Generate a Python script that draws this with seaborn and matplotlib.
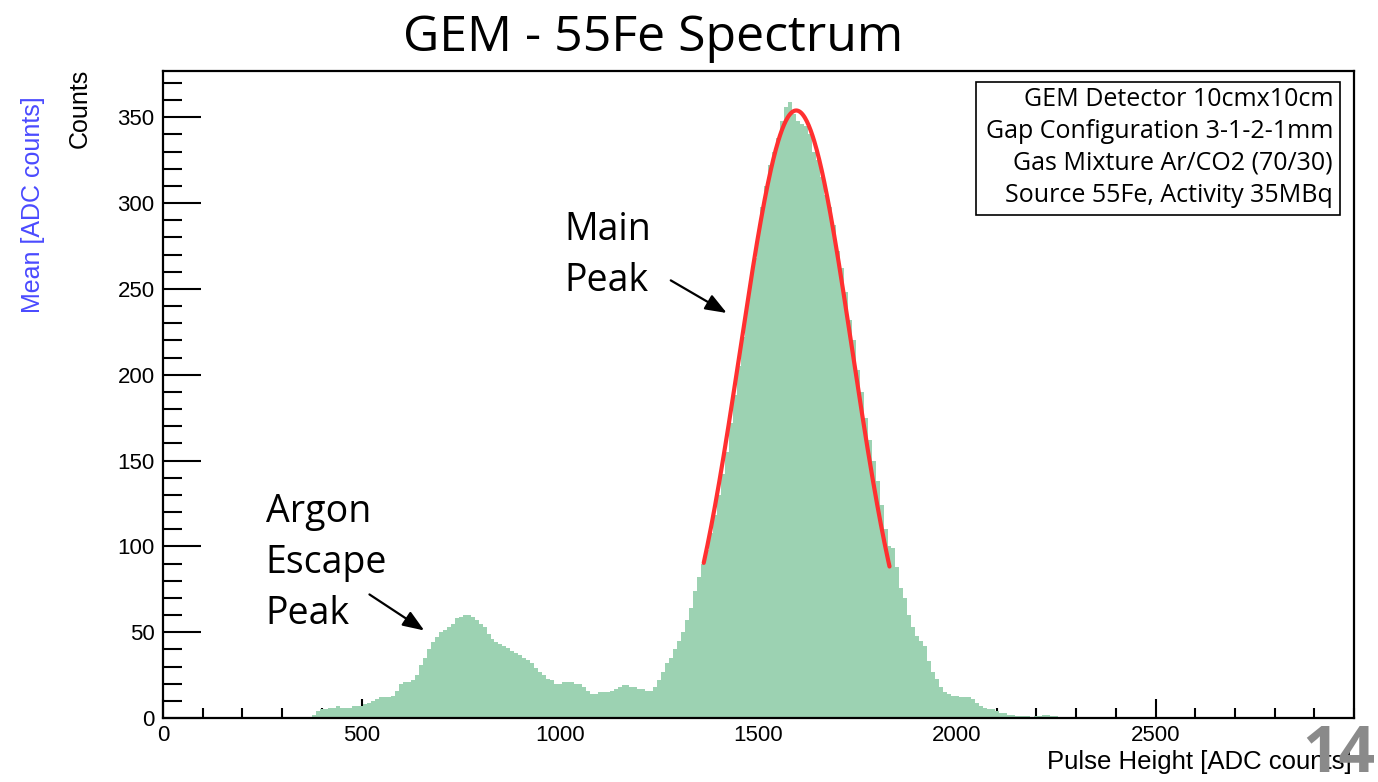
import numpy as np
import pandas as pd
import matplotlib
matplotlib.use("Agg")
import matplotlib.pyplot as plt
import matplotlib.patches as mpatches
from matplotlib.ticker import MultipleLocator, FixedLocator
import seaborn as sns

# ---------------- data ----------------
bin_start = 375      # lower edge of first bin [ADC counts]
bin_width = 10       # bin width [ADC counts]
counts = [
    2, 4, 5, 5, 6, 6, 7, 6, 6, 6,          # 380-470
    7, 7, 7, 8, 9, 10, 11, 12, 12, 12,     # 480-570
    13, 16, 20, 21, 21, 22, 25, 31, 35, 40,  # 580-670
    44, 47, 50, 51, 53, 55, 58, 59, 60, 60,  # 680-770
    59, 57, 55, 53, 49, 46, 44, 43, 42, 41,  # 780-870
    39, 38, 37, 35, 34, 32, 29, 27, 25, 23,  # 880-970
    22, 20, 20, 21, 21, 21, 20, 20, 18, 16,  # 980-1070
    14, 14, 15, 15, 15, 16, 17, 18, 19, 19,  # 1080-1170
    18, 18, 17, 17, 16, 16, 18, 22, 27, 32,  # 1180-1270
    35, 40, 45, 50, 57, 64, 74, 82, 90, 98,  # 1280-1370
    108, 118, 130, 142, 155, 172, 188, 205, 222, 240,  # 1380-1470
    255, 268, 283, 298, 310, 322, 330, 338, 348, 356,  # 1480-1570
    359, 352, 348, 346, 345, 340, 330, 325, 315, 305,  # 1580-1670
    298, 287, 272, 262, 248, 232, 220, 203, 190, 175,  # 1680-1770
    162, 150, 138, 124, 110, 100, 99, 88, 76, 70,      # 1780-1870
    60, 53, 48, 45, 42, 33, 27, 23, 18, 15,            # 1880-1970
    14, 13, 13, 12, 12, 12, 11, 9, 7, 6,               # 1980-2070
    5, 5, 4, 3, 3, 2, 2, 1, 1, 1,                      # 2080-2170
    1, 0, 1, 1, 2, 2, 1, 1, 0,                         # 2180-2260
]

# Gaussian fit of the main peak (drawn in red)
fit_amplitude = 354.0
fit_mean = 1595.0
fit_sigma = 141.0
fit_range = (1362.0, 1830.0)

x_major_ticks = [0, 500, 1000, 1500, 2000, 2500]

title = "GEM - 55Fe Spectrum"
legend_lines = [
    "GEM Detector 10cmx10cm",
    "Gap Configuration 3-1-2-1mm",
    "Gas Mixture Ar/CO2 (70/30)",
    "Source 55Fe, Activity 35MBq",
]
x_label = "Pulse Height [ADC counts]"
y_label = "Counts"
side_label = "Mean [ADC counts]"
slide_number = "14"

# ---------------- style ----------------
sns.set_style("ticks")
plt.rcParams["font.family"] = ["Liberation Sans", "DejaVu Sans"]
plt.rcParams["text.color"] = "black"
plt.rcParams["xtick.color"] = "black"
plt.rcParams["ytick.color"] = "black"
plt.rcParams["axes.labelcolor"] = "black"
HUMAN = ["Open Sans", "DejaVu Sans"]
GREEN = "#9cd2b2"
RED = "#ff3030"

W, H = 1378, 782
fig = plt.figure(figsize=(W / 100, H / 100), dpi=100)
ax = fig.add_axes([163 / W, 1 - 718 / H, (1354 - 163) / W, (718 - 71) / H])

n = len(counts)
hist_df = pd.DataFrame({"pulse": bin_start + bin_width * (np.arange(n) + 0.5),
                        "counts": counts})

sns.histplot(data=hist_df, x="pulse", weights="counts", binwidth=bin_width,
             binrange=(bin_start, bin_start + n * bin_width), element="step",
             fill=True, color=GREEN, alpha=1.0, linewidth=0, ax=ax)

xf = np.linspace(fit_range[0], fit_range[1], 300)
yf = fit_amplitude * np.exp(-0.5 * ((xf - fit_mean) / fit_sigma) ** 2)
sns.lineplot(x=xf, y=yf, color=RED, linewidth=3.0, ax=ax)

ax.set_xlim(0, 3000)
ax.set_ylim(0, 377)
ax.set_xlabel("")
ax.set_ylabel("")

ax.xaxis.set_major_locator(FixedLocator(x_major_ticks))
ax.xaxis.set_minor_locator(MultipleLocator(100))
ax.yaxis.set_major_locator(MultipleLocator(50))
ax.yaxis.set_minor_locator(MultipleLocator(10))
ax.tick_params(axis="x", which="major", direction="in", length=14, width=1.5,
               labelsize=16, pad=5, top=False)
ax.tick_params(axis="x", which="minor", direction="in", length=7, width=1.5, top=False)
ax.tick_params(axis="y", which="major", direction="in", length=27, width=1.5,
               labelsize=16, pad=6, right=False)
ax.tick_params(axis="y", which="minor", direction="in", length=14, width=1.5, right=False)
for s in ax.spines.values():
    s.set_linewidth(1.6)
    s.set_color("black")

# legend-like box
ax.add_patch(mpatches.Rectangle((0.6826, 0.7774), 0.3057, 0.2056, transform=ax.transAxes,
                                facecolor="white", edgecolor="black", linewidth=1.2, zorder=5))
for i, line in enumerate(legend_lines):
    ypix = 100 + i * 31.7
    ax.text(0.9824, (718 - ypix) / 647, line, transform=ax.transAxes, ha="right",
            va="center", fontsize=18, family=HUMAN, zorder=6)

# annotations
ax.annotate("Main\nPeak", xy=(1420, 236), xytext=(1012, 269.5), textcoords="data",
            ha="left", va="center", fontsize=27, family=HUMAN, linespacing=1.45)
ax.annotate("", xy=(1420, 236), xytext=(1279, 255),
            arrowprops=dict(arrowstyle="-|>,head_length=1.3,head_width=0.5",
                            color="black", lw=1.6, shrinkA=0, shrinkB=0))
ax.annotate("Argon\nEscape\nPeak", xy=(658, 51), xytext=(259, 90.3), textcoords="data",
            ha="left", va="center", fontsize=27, family=HUMAN, linespacing=1.45)
ax.annotate("", xy=(658, 51), xytext=(520, 72),
            arrowprops=dict(arrowstyle="-|>,head_length=1.3,head_width=0.5",
                            color="black", lw=1.6, shrinkA=0, shrinkB=0))

# figure texts
fig.text(653 / W, 1 - 38 / H, title, ha="center", va="center", fontsize=36, family=HUMAN)
fig.text(80 / W, 1 - 69 / H, y_label, rotation=90, ha="center", va="top", fontsize=18)
fig.text(33 / W, 1 - 205 / H, side_label, rotation=90, ha="center", va="center",
         fontsize=18, color="#4a4aff")
fig.text(1352 / W, 1 - 762 / H, x_label, ha="right", va="center", fontsize=18.5)
fig.text(1339 / W, 1 - 755 / H, slide_number, ha="center", va="center", fontsize=46,
         fontweight="bold", color="#8a8a8a", family=HUMAN)

fig.savefig("out.png", dpi=100)
